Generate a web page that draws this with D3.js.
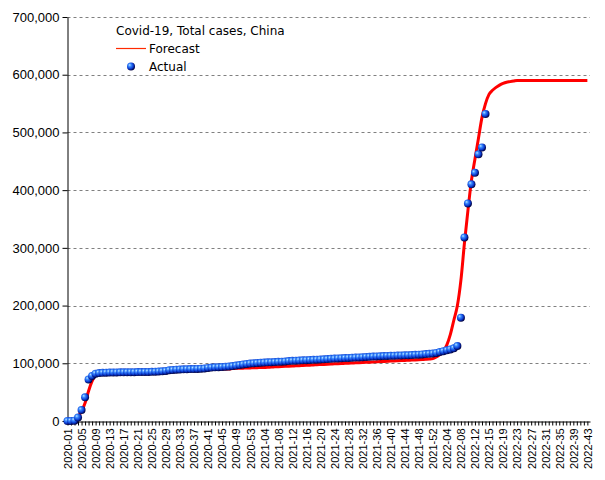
<!DOCTYPE html>
<html>
<head>
<meta charset="utf-8">
<script src="https://cdn.jsdelivr.net/npm/d3@7"></script>
<style>
  html, body { margin: 0; padding: 0; background: #fff; }
  svg { display: block; }
</style>
</head>
<body>
<svg id="chart" width="605" height="480"></svg>
<script>
// ---------- DATA ----------
const chartTitle = "Covid-19, Total cases, China";
const legendLabels = ["Forecast", "Actual"];

// week categories: 2020-01..53, 2021-01..52, 2022-01..12, 2022-13 (repeated), ..2022-43
const weeksPerYear = [[2020, 53], [2021, 52], [2022, 43]];
const weekLabels = [];
weeksPerYear.forEach(([yr, n]) => {
  for (let w = 1; w <= n; w++) {
    weekLabels.push(yr + "-" + String(w).padStart(2, "0"));
    if (yr === 2022 && w === 12) weekLabels.push("2022-13");
  }
});
// remove the normal 2022-13 so the repeated one stands in its place
weekLabels.splice(weekLabels.lastIndexOf("2022-13"), 0);

const yTicks = [0, 100000, 200000, 300000, 400000, 500000, 600000, 700000];

const actual = [
  0, 100, 600, 6000, 19000, 41000, 72000, 78000, 82000,
  83000, 83500, 83800, 84000, 84100, 84200, 84300, 84400, 84500, 84500,
  84600, 84700, 84800, 84900, 85000, 85200, 85500, 85800, 86200, 86800,
  88000, 88500, 89000, 89300, 89500, 89700, 89900, 90100, 90300, 90600, 91000,
  92000, 92500, 93000, 93300, 93600, 94000, 94500, 95200, 96000,
  97000, 98000, 98800, 99500, 100000, 100500,
  101000, 101300, 101600, 101900, 102200, 102500, 102800, 103200,
  103800, 104200, 104500, 104800, 105100, 105400, 105700, 106000, 106300, 106600, 106900, 107300,
  107800, 108100, 108400, 108700, 109000, 109300, 109600, 109900, 110200, 110500,
  111000, 111300, 111600, 111900, 112200, 112500, 112800, 113000, 113200, 113400, 113600,
  113800, 114000, 114300, 114600, 115000, 115400, 115900, 116400,
  117000, 118000, 119500, 121000, 122500, 124000, 126000, 130000,
  179000, 318000, 377000, 410000, 430000, 462000, 474000, 532000
];

const forecast = [
  0, 1000, 3000, 8000, 17000, 31000, 52000, 69000, 80000, 84000, 86000,
  86500, 86700, 86800, 86900, 87000, 87000, 87100, 87200, 87300, 87400, 87500, 87600, 87700,
  88000, 88100, 88200, 88300, 88400, 88500, 88600, 88700, 88800, 88900, 89000, 89100,
  89200, 89300, 89400, 89500, 89600, 89700, 89800, 89900, 90000, 90100, 90200,
  91000, 91200, 91400, 91600, 91800, 92000, 92200, 92400, 92600, 92800, 93000,
  93500, 93800, 94100, 94400, 94700, 95000, 95300, 95600, 95900, 96200, 96500, 96800, 97100,
  97500, 97800, 98100, 98400, 98700, 99000, 99300, 99600, 99900, 100200, 100500, 100800, 101100, 101400, 101700,
  102000, 102300, 102600, 102900, 103200, 103500, 103800, 104100, 104400, 104700, 105000,
  105300, 105600, 105900, 106200, 106500, 106800, 107200,
  108000, 111000, 115000, 121000, 132000, 150000, 175000, 200000, 244000, 308000, 365000,
  417000, 454000, 490000, 526000, 550000, 566000, 573000, 578000, 582000, 585000, 587000, 588000, 589000,
  590000, 590000, 590000, 590000, 590000, 590000, 590000, 590000, 590000, 590000, 590000,
  590000, 590000, 590000, 590000, 590000, 590000, 590000, 590000, 590000, 590000
];

// ---------- DRAW ----------
const svg = d3.select("#chart");
const nCat = weekLabels.length;

const x = d3.scaleLinear().domain([0, nCat - 1 + 0.75]).range([67.5, 590]);
const y = d3.scaleLinear().domain([0, 700000]).range([421, 17]);

const defs = svg.append("defs");
const grad = defs.append("radialGradient").attr("id", "sphere")
  .attr("cx", "40%").attr("cy", "40%").attr("r", "60%")
  .attr("fx", "32%").attr("fy", "30%");
grad.append("stop").attr("offset", "0%").attr("stop-color", "#bfe6ff");
grad.append("stop").attr("offset", "30%").attr("stop-color", "#3c8cff");
grad.append("stop").attr("offset", "70%").attr("stop-color", "#0a3ad0");
grad.append("stop").attr("offset", "100%").attr("stop-color", "#000040");

// gridlines
svg.append("g").selectAll("line")
  .data(yTicks.filter(d => d > 0))
  .join("line")
  .attr("x1", 67.5).attr("x2", 590)
  .attr("y1", d => Math.round(y(d)) + 0.5).attr("y2", d => Math.round(y(d)) + 0.5)
  .attr("stroke", "#808080").attr("stroke-width", 1)
  .attr("stroke-dasharray", "3,3");

// y axis
const yAxis = svg.append("g")
  .attr("transform", "translate(67.5,0)")
  .call(d3.axisLeft(y).tickValues(yTicks).tickFormat(d3.format(",")).tickSize(5).tickSizeOuter(0));
yAxis.selectAll("text").attr("font-family", "Liberation Sans, Arial, sans-serif")
  .attr("font-size", 13).attr("fill", "#000").attr("x", -8);
yAxis.selectAll("line, path").attr("stroke", "#000");

// x axis
const xAxis = svg.append("g")
  .attr("transform", "translate(0,421.5)")
  .call(d3.axisBottom(x).tickValues(d3.range(nCat))
    .tickFormat(i => (i % 4 === 0 ? weekLabels[i] : ""))
    .tickSize(4).tickSizeOuter(0));
xAxis.selectAll("line, path").attr("stroke", "#000");
xAxis.selectAll("text")
  .attr("font-family", "Liberation Sans, Arial, sans-serif")
  .attr("font-size", 11).attr("fill", "#000")
  .attr("transform", "rotate(-90)")
  .attr("text-anchor", "end")
  .attr("x", -7).attr("y", 0).attr("dy", "0.35em");

// forecast line
const line = d3.line()
  .x((d, i) => x(i))
  .y(d => y(d))
  .curve(d3.curveMonotoneX);
svg.append("path")
  .datum(forecast)
  .attr("d", line)
  .attr("fill", "none")
  .attr("stroke", "#ff0000")
  .attr("stroke-width", 3);

// actual points
svg.append("g").selectAll("circle")
  .data(actual)
  .join("circle")
  .attr("cx", (d, i) => x(i))
  .attr("cy", d => y(d))
  .attr("r", 4)
  .attr("fill", "url(#sphere)");

// legend
const lg = svg.append("g").attr("font-family", "DejaVu Sans, sans-serif").attr("font-size", 12).attr("fill", "#000");
lg.append("text").attr("x", 116).attr("y", 35).text(chartTitle);
lg.append("line").attr("x1", 116).attr("x2", 146).attr("y1", 48.5).attr("y2", 48.5)
  .attr("stroke", "#ff2a00").attr("stroke-width", 1.2);
lg.append("text").attr("x", 149).attr("y", 53).text(legendLabels[0]);
lg.append("circle").attr("cx", 131).attr("cy", 66.5).attr("r", 4).attr("fill", "url(#sphere)");
lg.append("text").attr("x", 149).attr("y", 71).text(legendLabels[1]);
</script>
</body>
</html>
